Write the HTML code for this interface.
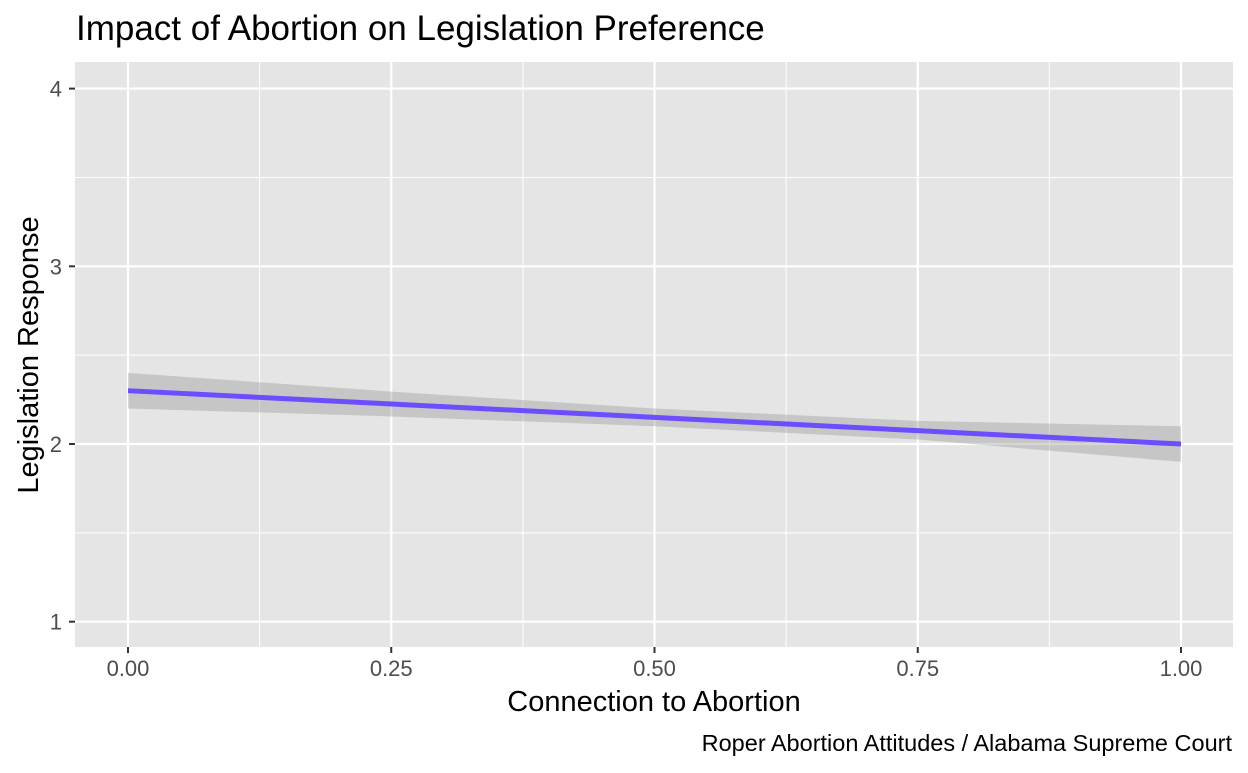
<!DOCTYPE html>
<html><head><meta charset="utf-8"><style>
body{margin:0;background:#fff;font-family:"Liberation Sans",Arial,sans-serif;}
svg text{font-family:"Liberation Sans",Arial,sans-serif;}
</style></head><body>
<svg id="chart" width="1248" height="768" xmlns="http://www.w3.org/2000/svg">
<text x="76" y="40" font-size="35" fill="#000">Impact of Abortion on Legislation Preference</text>
<rect x="75" y="62" width="1158" height="585" fill="#e5e5e5"/>
<g id="grid"></g>
<g id="marks"></g>
<g id="axes"></g>
<text x="654" y="711" font-size="29" text-anchor="middle" fill="#000">Connection to Abortion</text>
<text transform="translate(38,355) rotate(-90)" font-size="29" text-anchor="middle" fill="#000">Legislation Response</text>
<text x="1232" y="751" font-size="23.5" text-anchor="end" fill="#000">Roper Abortion Attitudes / Alabama Supreme Court</text>
</svg>
<script>
const xVals=[0,0.25,0.5,0.75,1];
const fitVals=[2.30,2.225,2.15,2.075,2.00];
const lowerVals=[2.20,2.155,2.10,2.025,1.90];
const upperVals=[2.40,2.295,2.20,2.13,2.10];
const xTicks=[0,0.25,0.5,0.75,1];
const xTickLabels=["0.00","0.25","0.50","0.75","1.00"];
const yTicks=[1,2,3,4];
const yTickLabels=["1","2","3","4"];
const NS="http://www.w3.org/2000/svg";
const sx=v=>128+v*1053;
const sy=v=>444-(v-2)*177.7;
function mk(parent,tag,attrs){const e=document.createElementNS(NS,tag);for(const k in attrs)e.setAttribute(k,attrs[k]);document.getElementById(parent).appendChild(e);return e;}
for(let i=0;i<xTicks.length-1;i++){const m=(xTicks[i]+xTicks[i+1])/2;
const g=mk('grid','line',{x1:sx(m),x2:sx(m),y1:62,y2:647,stroke:'#fff','stroke-width':1});

}
for(let i=0;i<yTicks.length-1;i++){const m=(yTicks[i]+yTicks[i+1])/2;
const g=mk('grid','line',{x1:75,x2:1233,y1:sy(m),y2:sy(m),stroke:'#fff','stroke-width':1});

}
xTicks.forEach((t,i)=>{
const g=mk('grid','line',{x1:sx(t),x2:sx(t),y1:62,y2:647,stroke:'#fff','stroke-width':2.2});


const tk=mk('axes','line',{x1:sx(t),x2:sx(t),y1:647,y2:653,stroke:'#333','stroke-width':2});


const tx=mk('axes','text',{x:sx(t),y:676,'font-size':22,'text-anchor':'middle',fill:'#4d4d4d'});
tx.textContent=xTickLabels[i];


});
yTicks.forEach((t,i)=>{
const g=mk('grid','line',{x1:75,x2:1233,y1:sy(t),y2:sy(t),stroke:'#fff','stroke-width':2.2});


const tk=mk('axes','line',{x1:69,x2:75,y1:sy(t),y2:sy(t),stroke:'#333','stroke-width':2});


const tx=mk('axes','text',{x:62,y:sy(t)+8,'font-size':22,'text-anchor':'end',fill:'#4d4d4d'});
tx.textContent=yTickLabels[i];


});
let d='M'+xVals.map((x,i)=>sx(x)+','+sy(upperVals[i])).join('L');
for(let i=xVals.length-1;i>=0;i--)d+='L'+sx(xVals[i])+','+sy(lowerVals[i]);
d+='Z';
const band=mk('marks','path',{d:d,fill:'#999','fill-opacity':0.4});


const ln=mk('marks','polyline',{points:xVals.map((x,i)=>sx(x)+','+sy(fitVals[i])).join(' '),fill:'none',stroke:'#6e4cff','stroke-width':5});


</script>
</body></html>
